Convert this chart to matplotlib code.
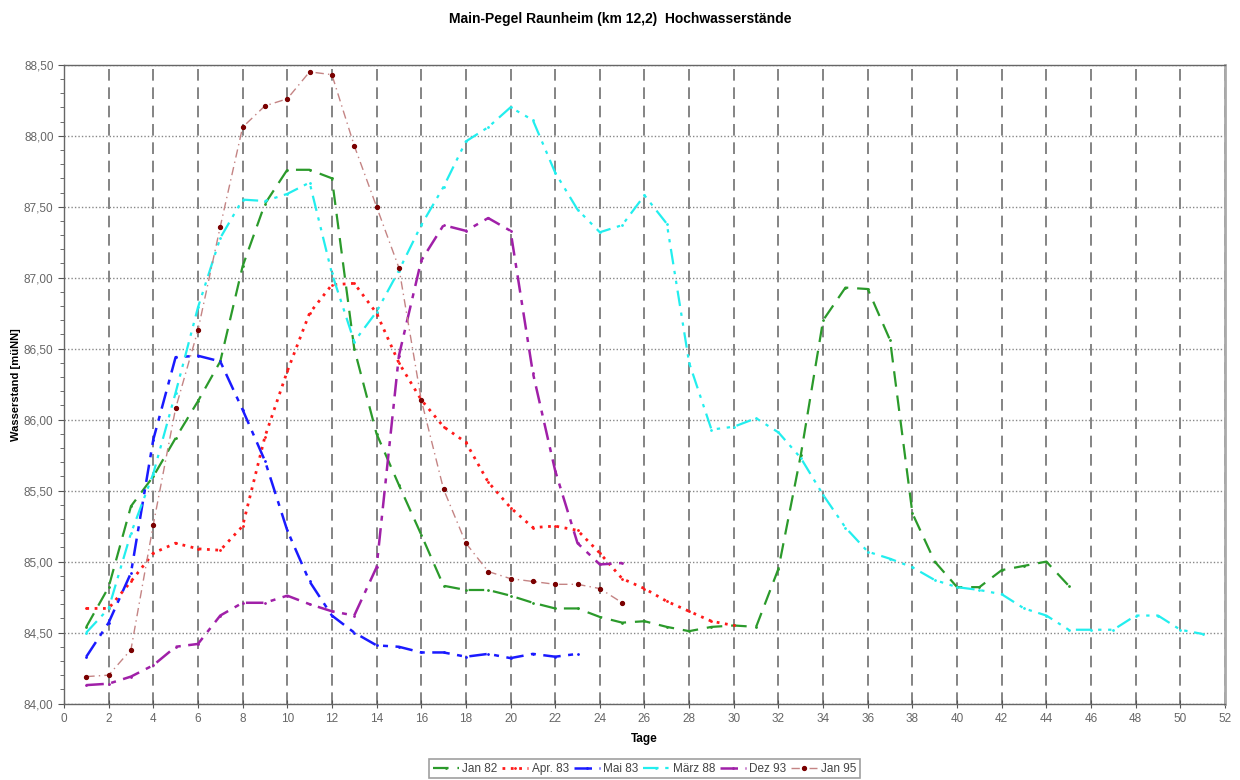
import numpy as np
import matplotlib
matplotlib.use('agg')
import matplotlib.pyplot as plt
from matplotlib.ticker import MultipleLocator, FuncFormatter

plt.rcParams['font.family'] = ['Liberation Sans', 'DejaVu Sans']

jan82 = [84.54, 84.82, 85.39, 85.60, 85.87, 86.13, 86.41, 87.08, 87.52, 87.76,
         87.76, 87.70, 86.50, 85.90, 85.54, 85.19, 84.83, 84.80, 84.80, 84.76,
         84.71, 84.67, 84.67, 84.61, 84.57, 84.58, 84.54, 84.51, 84.54, 84.55,
         84.54, 84.95, 85.75, 86.70, 86.93, 86.92, 86.56, 85.34, 85.00, 84.82,
         84.82, 84.94, 84.97, 85.00, 84.83]
apr83 = [84.67, 84.67, 84.86, 85.06, 85.13, 85.09, 85.08, 85.25, 85.88, 86.34,
         86.75, 86.95, 86.96, 86.75, 86.40, 86.14, 85.95, 85.84, 85.56, 85.38,
         85.24, 85.25, 85.22, 85.06, 84.88, 84.81, 84.72, 84.65, 84.58, 84.55]
mai83 = [84.33, 84.57, 84.92, 85.86, 86.44, 86.45, 86.41, 86.07, 85.71, 85.22,
         84.86, 84.62, 84.50, 84.41, 84.40, 84.36, 84.36, 84.33, 84.35, 84.32,
         84.35, 84.33, 84.35]
maerz88 = [84.50, 84.67, 85.20, 85.62, 86.19, 86.79, 87.28, 87.55, 87.54, 87.59,
           87.67, 87.03, 86.55, 86.76, 87.05, 87.37, 87.64, 87.96, 88.06, 88.20,
           88.11, 87.74, 87.48, 87.32, 87.37, 87.58, 87.38, 86.40, 85.93, 85.95,
           86.01, 85.91, 85.73, 85.47, 85.24, 85.07, 85.02, 84.96, 84.87, 84.82,
           84.80, 84.77, 84.67, 84.62, 84.52, 84.52, 84.52, 84.62, 84.62, 84.52,
           84.49]
dez93 = [84.13, 84.14, 84.19, 84.27, 84.40, 84.42, 84.62, 84.71, 84.71, 84.76,
         84.70, 84.65, 84.62, 84.96, 86.45, 87.12, 87.37, 87.33, 87.42, 87.33,
         86.33, 85.64, 85.13, 84.98, 84.99]
jan95 = [84.19, 84.20, 84.38, 85.26, 86.08, 86.63, 87.36, 88.06, 88.21, 88.26,
         88.45, 88.43, 87.93, 87.50, 87.07, 86.14, 85.51, 85.13, 84.93, 84.88,
         84.86, 84.84, 84.84, 84.81, 84.71]

fig = plt.figure(figsize=(12.4, 7.8), dpi=100)
ax = fig.add_axes([0.0516, 0.098, 0.9363, 0.819])

def days(v):
    return np.arange(1, len(v) + 1)

ax.plot(days(jan82), jan82, color='#2b9a2b', lw=1.6, dashes=(7, 4),
        marker='.', ms=2, label='Jan 82')
ax.plot(days(apr83), apr83, color='#ff1a1a', lw=2.0, dashes=(1, 2),
        marker='.', ms=2, label='Apr. 83')
ax.plot(days(mai83), mai83, color='#1a1aff', lw=1.8, dashes=(7, 3, 2, 3),
        marker='.', ms=2, label='Mai 83')
ax.plot(days(maerz88), maerz88, color='#22eeee', lw=1.6, dashes=(7, 3, 1.5, 3, 1.5, 3),
        marker='.', ms=2, label='März 88')
ax.plot(days(dez93), dez93, color='#a020a8', lw=1.8, dashes=(7, 3, 2, 3),
        marker='.', ms=2, label='Dez 93')
ax.plot(days(jan95), jan95, color='#c48484', lw=1.0, dashes=(6, 3, 1, 3),
        marker='o', ms=2.8, mfc='#7a0000', mec='#7a0000', label='Jan 95')

ax.set_xlim(0, 52)
ax.set_ylim(84.0, 88.5)
ax.xaxis.set_major_locator(MultipleLocator(2))
ax.yaxis.set_major_locator(MultipleLocator(0.5))
ax.yaxis.set_minor_locator(MultipleLocator(0.1))
ax.yaxis.set_major_formatter(FuncFormatter(lambda v, p: ('%.2f' % v).replace('.', ',')))

ax.grid(axis='x', which='major', color='#707070', lw=1.2, dashes=(7, 4))
ax.grid(axis='y', which='major', color='#888888', lw=1.0, dashes=(1, 1.5))
ax.set_axisbelow(True)

ax.tick_params(axis='both', which='major', labelsize=8.5, labelcolor='#666666',
               color='#555555', length=4)
ax.tick_params(axis='y', which='minor', color='#555555', length=3)
ax.tick_params(axis='x', direction='inout', length=6)
for s in ax.spines.values():
    s.set_color('#666666')
    s.set_linewidth(1.0)
ax.spines['right'].set_color('#aaaaaa')
ax.spines['right'].set_linewidth(2.0)

ax.set_xlabel('Tage', fontsize=8.5, fontweight='bold', labelpad=6)
ax.set_ylabel('Wasserstand [müNN]', fontsize=8, fontweight='bold', labelpad=2)
fig.suptitle('Main-Pegel Raunheim (km 12,2)  Hochwasserstände', fontsize=10,
             fontweight='bold', y=0.985)

leg = ax.legend(loc='upper center', bbox_to_anchor=(0.5, -0.078), ncol=6,
                fontsize=8.5, frameon=True, fancybox=False, handlelength=2.2,
                handletextpad=0.3, columnspacing=0.4, borderpad=0.3)
leg.get_frame().set_edgecolor('#888888')
leg.get_frame().set_linewidth(1.2)
for t in leg.get_texts():
    t.set_color('#444444')

fig.savefig('out.png', dpi=100)
